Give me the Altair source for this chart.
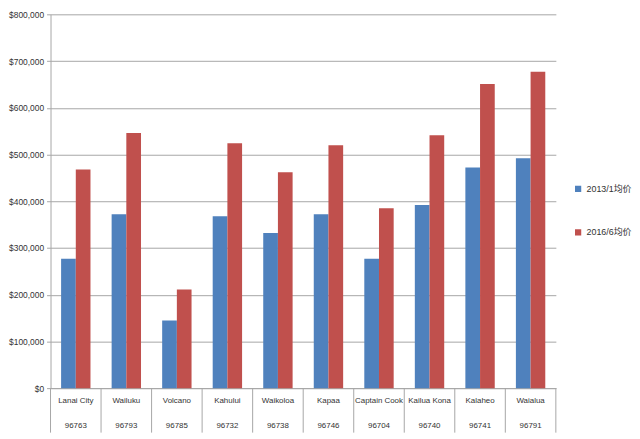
import altair as alt
import pandas as pd

names = ["Lanai City", "Wailuku", "Volcano", "Kahului", "Waikoloa", "Kapaa",
         "Captain Cook", "Kailua Kona", "Kalaheo", "Waialua"]
zips = ["96763", "96793", "96785", "96732", "96738", "96746",
        "96704", "96740", "96741", "96791"]
series = ["2013/1均价", "2016/6均价"]
v2013 = [277000, 372000, 145000, 368000, 332000, 372000, 277000, 392000, 472000, 492000]
v2016 = [468000, 546000, 211000, 524000, 462000, 520000, 385000, 541000, 651000, 677000]

rows = []
for i, (n, z) in enumerate(zip(names, zips)):
    cat = f"{n}|{z}"
    rows.append({"cat": cat, "series": series[0], "value": v2013[i]})
    rows.append({"cat": cat, "series": series[1], "value": v2016[i]})
df = pd.DataFrame(rows)
cats = [f"{n}|{z}" for n, z in zip(names, zips)]
sep = pd.DataFrame({"cat": cats})

W = 511
H = 378
FONT = "Liberation Sans, Noto Sans CJK SC"
GRID = "#A6A6A6"
xscale = alt.Scale(domain=cats, paddingInner=0, paddingOuter=0)

bars = alt.Chart(df).mark_bar().encode(
    x=alt.X("cat:N", sort=cats, title=None, scale=xscale,
            axis=alt.Axis(labelAngle=0, ticks=False, tickSize=0,
                          labelExpr="split(datum.label, '|')",
                          labelLineHeight=25, labelPadding=9,
                          labelFontSize=8, labelColor="#333333", labelFont=FONT,
                          domainColor=GRID, labelBaseline="top")),
    xOffset=alt.XOffset("series:N", sort=series,
                        scale=alt.Scale(paddingOuter=0.72, paddingInner=0)),
    y=alt.Y("value:Q", title=None,
            scale=alt.Scale(domain=[0, 800000]),
            axis=alt.Axis(values=list(range(0, 800001, 100000)), format="$,.0f",
                          labelFontSize=8.5, labelColor="#333333", labelFont=FONT,
                          gridColor=GRID, domainColor=GRID, tickColor=GRID,
                          tickSize=4, labelPadding=3)),
    color=alt.Color("series:N", sort=series,
                    scale=alt.Scale(domain=series, range=["#4F81BD", "#C0504D"]),
                    legend=alt.Legend(title=None, orient="none", legendX=W + 18,
                                      legendY=172, symbolType="square",
                                      symbolSize=40, symbolStrokeWidth=0,
                                      labelFontSize=9, labelFont=FONT,
                                      labelColor="#333333", rowPadding=34)),
)

seps = alt.Chart(sep).mark_rule(color=GRID).encode(
    x=alt.X("cat:N", sort=cats, bandPosition=0, scale=xscale),
    y=alt.value(H), y2=alt.value(H + 45)
)

edge = alt.Chart(pd.DataFrame({"a": [0]})).mark_rule(color=GRID).encode(
    x=alt.value(W), y=alt.value(H), y2=alt.value(H + 45)
)

chart = (bars + seps + edge).properties(
    width=W, height=H, padding=0
).configure(font=FONT, view=alt.ViewConfig(stroke=None))

chart.save("out.html", embed_options={"renderer": "svg", "actions": False})
